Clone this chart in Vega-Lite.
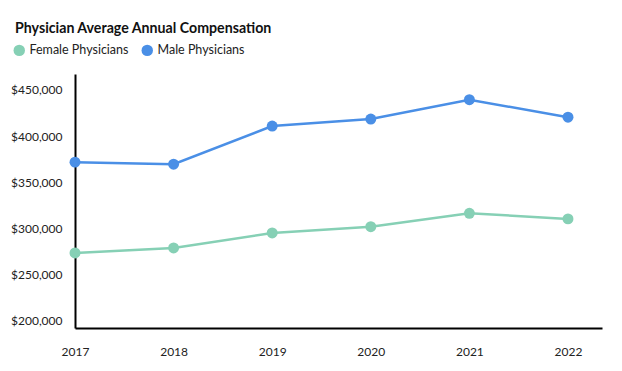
{
  "$schema": "https://vega.github.io/schema/vega-lite/v6.json",
  "width": 527,
  "height": 254,
  "autosize": {"type": "none"},
  "padding": {"left": 75, "top": 74, "right": 20, "bottom": 43},
  "background": "white",
  "title": {
    "text": "Physician Average Annual Compensation",
    "anchor": "start",
    "frame": "group",
    "orient": "top",
    "offset": -3,
    "dx": -60,
    "baseline": "alphabetic",
    "font": "Lato",
    "fontSize": 14.2,
    "fontWeight": "bold",
    "color": "#111111"
  },
  "config": {
    "view": {"stroke": null},
    "font": "Lato"
  },
  "data": {
    "values": [
      {"year": 2017, "gender": "Female Physicians", "comp": 273600},
      {"year": 2018, "gender": "Female Physicians", "comp": 279000},
      {"year": 2019, "gender": "Female Physicians", "comp": 295300},
      {"year": 2020, "gender": "Female Physicians", "comp": 302000},
      {"year": 2021, "gender": "Female Physicians", "comp": 316500},
      {"year": 2022, "gender": "Female Physicians", "comp": 310500},
      {"year": 2017, "gender": "Male Physicians", "comp": 371900},
      {"year": 2018, "gender": "Male Physicians", "comp": 369700},
      {"year": 2019, "gender": "Male Physicians", "comp": 411000},
      {"year": 2020, "gender": "Male Physicians", "comp": 418500},
      {"year": 2021, "gender": "Male Physicians", "comp": 439500},
      {"year": 2022, "gender": "Male Physicians", "comp": 420500}
    ]
  },
  "encoding": {
    "x": {
      "field": "year",
      "type": "quantitative",
      "scale": {"domain": [2017, 2022.345], "nice": false, "zero": false},
      "axis": {
        "title": null,
        "values": [2017, 2018, 2019, 2020, 2021, 2022],
        "format": "d",
        "grid": false,
        "ticks": false,
        "domainColor": "#000000",
        "domainWidth": 2,
        "labelPadding": 18,
        "labelFontSize": 12,
        "labelColor": "#222222",
        "labelFont": "Lato",
        "labelFlush": false
      }
    },
    "y": {
      "field": "comp",
      "type": "quantitative",
      "scale": {"domain": [192400, 467300], "nice": false, "zero": false},
      "axis": {
        "title": null,
        "values": [200000, 250000, 300000, 350000, 400000, 450000],
        "format": "$,.0f",
        "grid": false,
        "ticks": false,
        "domainColor": "#000000",
        "domainWidth": 2,
        "labelPadding": 13,
        "labelFontSize": 12,
        "labelColor": "#222222",
        "labelFont": "Lato"
      }
    },
    "color": {
      "field": "gender",
      "type": "nominal",
      "scale": {
        "domain": ["Female Physicians", "Male Physicians"],
        "range": ["#86d0b5", "#4a8fe6"]
      },
      "legend": {
        "title": null,
        "orient": "none",
        "direction": "horizontal",
        "legendX": -62,
        "legendY": -30,
        "symbolType": "circle",
        "symbolSize": 130,
        "symbolStrokeWidth": 0,
        "labelFontSize": 12.5,
        "labelColor": "#222222",
        "labelFont": "Lato",
        "columnPadding": 12,
        "labelOffset": 4
      }
    }
  },
  "layer": [
    {"mark": {"type": "line", "strokeWidth": 2.5}},
    {"mark": {"type": "circle", "size": 120, "opacity": 1}}
  ]
}
